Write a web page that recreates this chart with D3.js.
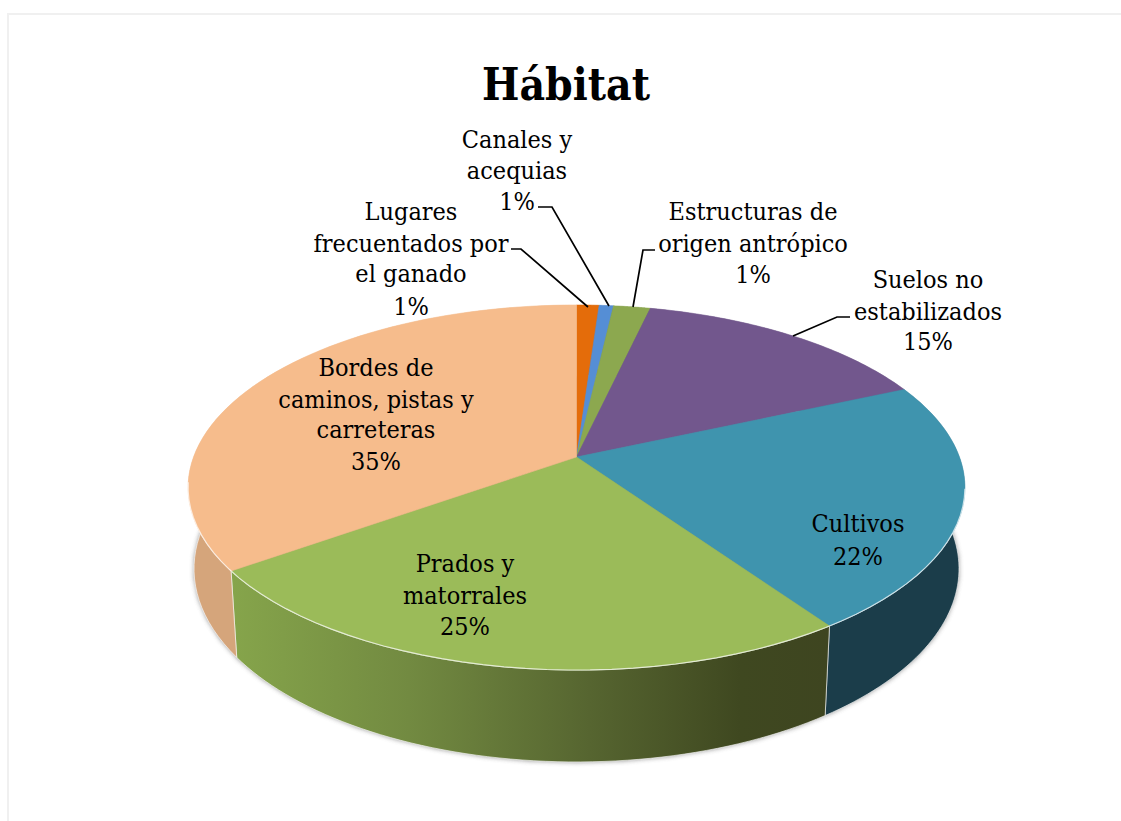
<!DOCTYPE html>
<html><head><meta charset="utf-8">
<script src="https://cdn.jsdelivr.net/npm/d3@7"></script>
<style>html,body{margin:0;background:#fff}svg{display:block}</style></head>
<body><div id="chart"></div>
<script>
const title = "Hábitat";
const categories = ["Lugares frecuentados por el ganado","Canales y acequias","Estructuras de origen antrópico","Suelos no estabilizados","Cultivos","Prados y matorrales","Bordes de caminos, pistas y carreteras"];
const values = [1.1,0.7,1.8,14.75,22,24.8,34.85];
const percentLabels = ["1%","1%","1%","15%","22%","25%","35%"];
const topColors = ["#E46C0A","#558ED5","#8CA84F","#72578D","#3F94AE","#9BBB59","#F6BC8C"];
const sideColors = ["#A04C07","#3C6496","#627537","#503D63","#1B3D4A","url(#pradoWall)","#D5A57B"];
const labelLines = [
  ["Lugares","frecuentados por","el ganado","1%"],
  ["Canales y","acequias","1%"],
  ["Estructuras de","origen antrópico","1%"],
  ["Suelos no","estabilizados","15%"],
  ["Cultivos","22%"],
  ["Prados y","matorrales","25%"],
  ["Bordes de","caminos, pistas y","carreteras","35%"]
];
const labelX = [411,517,753,928,858,465,376];
const labelY = [[220,252,282,315],[148,179,210],[220,252,283],[288,320,350],[532,565],[572,604,635],[376,408,438,470]];
const leaders = [[[511,249],[521,249],[588,307]],[[538,207],[552,207],[609,306]],[[655,250],[643,250],[633,307]],[[850,317],[837,317],[793,336]]];

const W=1121,H=821,cx=576.5,cy=457;
const d=5.98,Fx=2290,Fy=1061,depthK=0.09,depthH=485;
const proj=(a,z)=>{const u=Math.sin(a),v=-Math.cos(a),q=d-v+z*depthK;return [cx+Fx*u/q,cy+(Fy*v+z*depthH)/q];};
const line=d3.line();
const svg=d3.select("#chart").append("svg").attr("width",W).attr("height",H);
const defs=svg.append("defs");
const g=defs.append("linearGradient").attr("id","pradoWall").attr("gradientUnits","userSpaceOnUse").attr("x1",229).attr("x2",830).attr("y1",0).attr("y2",0);
[[0,"#86A54B"],[0.3,"#728A41"],[0.6,"#566530"],[0.85,"#3F4820"],[1,"#3E4520"]].forEach(s=>g.append("stop").attr("offset",s[0]).attr("stop-color",s[1]));
defs.append("filter").attr("id","blur").attr("x","-10%").attr("y","-10%").attr("width","120%").attr("height","120%").append("feGaussianBlur").attr("stdDeviation",2.5);

svg.append("path").attr("d",`M1121,14H8V821`).attr("fill","none").attr("stroke","#F0F0F0").attr("stroke-width",2);

const arcs=d3.pie().sort(null).value(v=>v)(values);
const samples=(a0,a1)=>d3.range(0,61).map(i=>a0+(a1-a0)*i/60);
const fullCircle=samples(0,2*Math.PI);
// soft shadow below the body
svg.append("path").attr("d",line(fullCircle.map(a=>proj(a,1)))+"Z").attr("fill","#666").attr("opacity",.8).attr("filter","url(#blur)");
// walls
svg.selectAll("path.wall").data(arcs).join("path").attr("class","wall")
  .attr("d",p=>{const s=samples(p.startAngle,p.endAngle);return line([...s.map(a=>proj(a,0)),...s.reverse().map(a=>proj(a,1))])+"Z";})
  .attr("fill",(p,i)=>sideColors[i]).attr("stroke","#fff").attr("stroke-opacity",.6).attr("stroke-width",1);
// top faces
svg.selectAll("path.top").data(arcs).join("path").attr("class","top")
  .attr("d",p=>line([[cx,cy],...samples(p.startAngle,p.endAngle).map(a=>proj(a,0))])+"Z")
  .attr("fill",(p,i)=>topColors[i]).attr("stroke",(p,i)=>topColors[i]).attr("stroke-width",.6);
// bevel highlight on the front rim
const deg=Math.PI/180;
svg.append("path").attr("d",line(samples(100*deg,262*deg).map(a=>proj(a,0)))).attr("fill","none").attr("stroke","#fff").attr("stroke-opacity",.7).attr("stroke-width",1.2);
// leaders
svg.selectAll("path.leader").data(leaders).join("path").attr("class","leader").attr("d",p=>line(p)).attr("fill","none").attr("stroke","#000").attr("stroke-width",1.7);
// labels
const font='"DejaVu Serif Condensed","DejaVu Serif",serif';
svg.append("text").attr("x",566).attr("y",100).attr("text-anchor","middle").attr("font-family",font).attr("font-weight",700).attr("font-size",44).text(title);
labelLines.forEach((ls,i)=>ls.forEach((t,j)=>{
  svg.append("text").attr("x",labelX[i]).attr("y",labelY[i][j]).attr("text-anchor","middle").attr("font-family",font).attr("font-size",25).attr("fill","#000").text(t);
}));
</script></body></html>
